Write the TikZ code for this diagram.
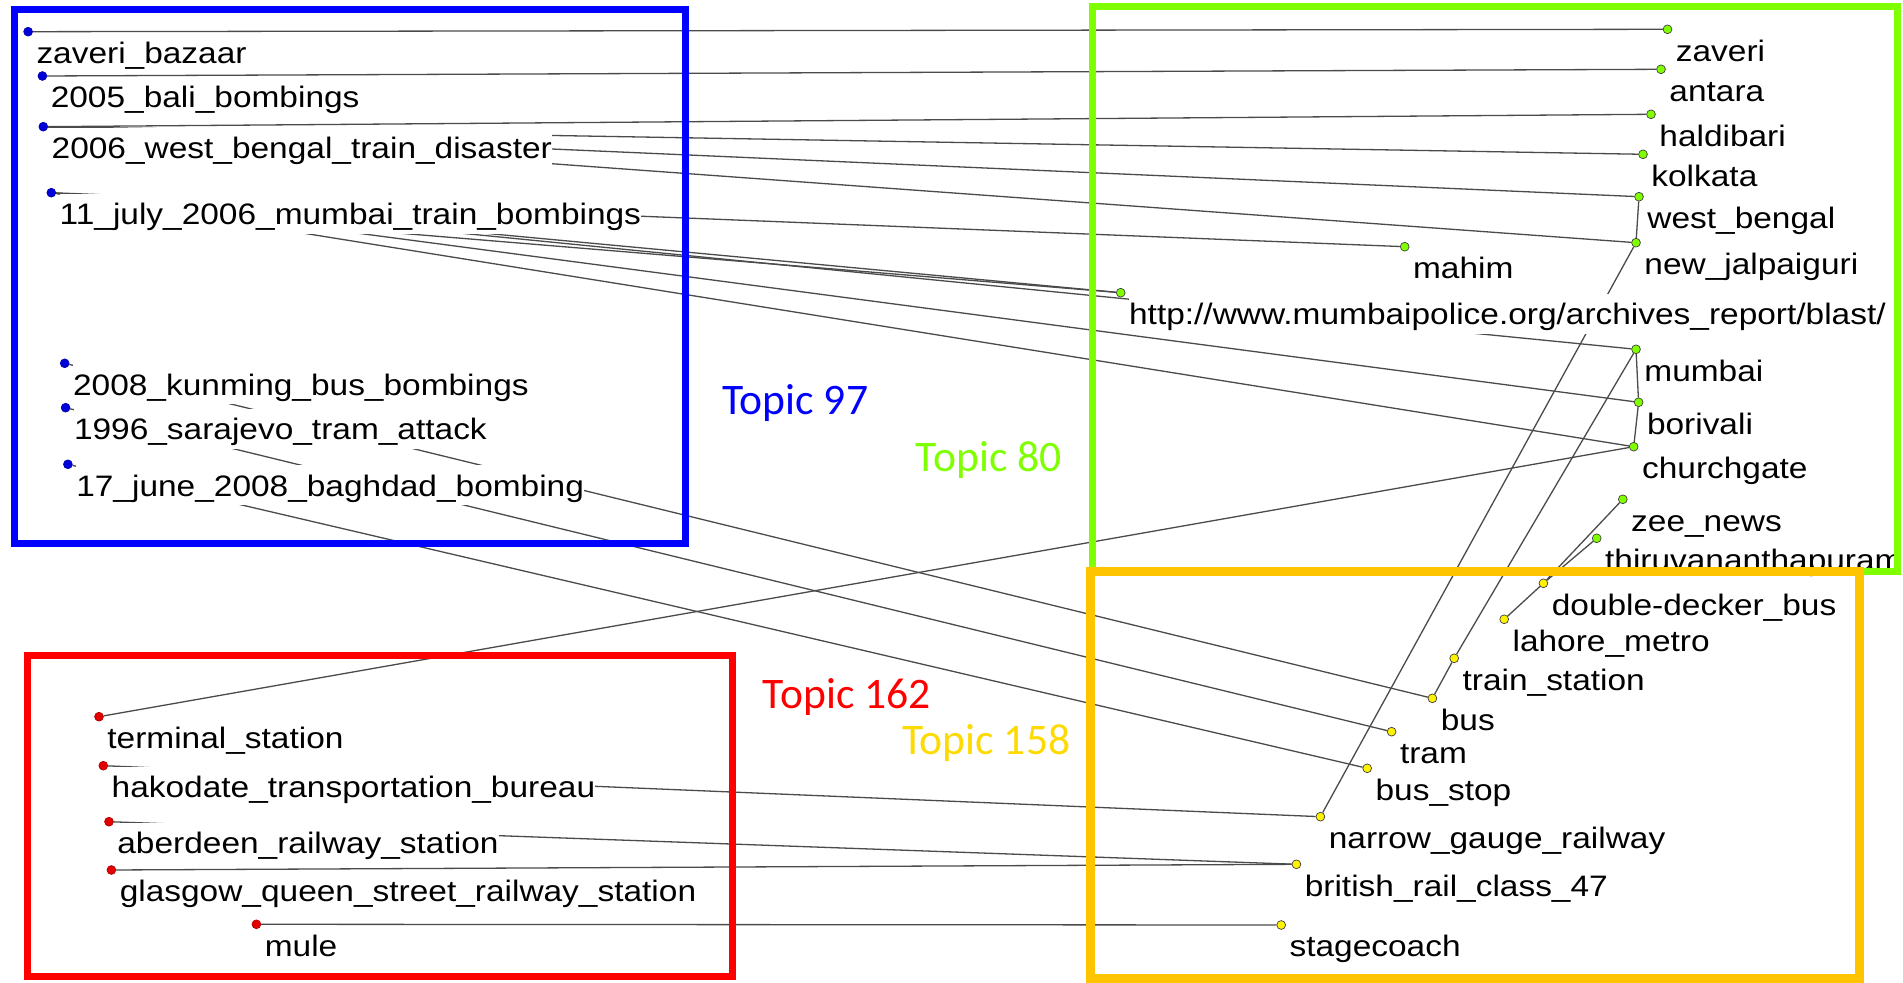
\documentclass[tikz,border=0pt]{standalone}
\usepackage{fontspec}
\newfontfamily\labfont[FakeStretch=1.13]{Liberation Sans}
\newfontfamily\topicfont{Carlito}

\pgfdeclarelayer{paper}
\pgfdeclarelayer{links}
\pgfdeclarelayer{frames}
\pgfsetlayers{paper,links,main,frames}

\definecolor{cblue}{RGB}{0,0,255}
\definecolor{cgreen}{RGB}{128,255,0}
\definecolor{corange}{RGB}{255,196,0}
\definecolor{cred}{RGB}{255,0,0}
\definecolor{tyellow}{RGB}{255,218,0}
\definecolor{linkgray}{RGB}{75,75,75}

\tikzset{
  dotbase/.style={circle, inner sep=0pt, minimum size=4.4pt, line width=0.35pt},
  bluedot/.style={dotbase, fill=cblue!85!black, draw=cblue!70!black},
  greendot/.style={dotbase, fill=cgreen, draw=black!75},
  yellowdot/.style={dotbase, fill=yellow, draw=black!75},
  reddot/.style={dotbase, fill=cred!90!black, draw=cred!70!black},
  lab/.style={font=\labfont\fontsize{14.8pt}{16pt}\selectfont, fill=white,
    inner sep=0pt, text height=15.4pt, text depth=4.5pt, anchor=base west},
  link/.style={draw=linkgray, line width=0.65pt},
  frame/.style={line width=3.5pt},
  topic/.style={font=\topicfont\fontsize{21.8pt}{24pt}\selectfont,
    anchor=base west, inner sep=0pt},
}

% a term: its dot, and its label below right of the dot
\newcommand\termnode[5]{%
  \node[#2] (#1) at (#3,#4) {};
  \node[lab] (#1-lab) at ([xshift=4pt,yshift=-16pt]#1.center) {#5};
}

\begin{document}
\begin{tikzpicture}[x=0.5pt,y=-0.5pt]
\useasboundingbox (0,0) rectangle (1903,983);
\begin{pgfonlayer}{paper}
\fill[white] (0,0) rectangle (1903,983);
\end{pgfonlayer}

% Topic 97
\termnode{zb}{bluedot}{28.1}{31.7}{zaveri\_bazaar}
\termnode{bali}{bluedot}{42.4}{76}{2005\_bali\_bombings}
\termnode{wb}{bluedot}{43.3}{126.7}{2006\_west\_bengal\_train\_disaster}
\termnode{j11}{bluedot}{51.3}{192.7}{11\_july\_2006\_mumbai\_train\_bombings}
\termnode{kun}{bluedot}{64.7}{363.3}{2008\_kunming\_bus\_bombings}
\termnode{sar}{bluedot}{65.6}{407.7}{1996\_sarajevo\_tram\_attack}
\termnode{bag}{bluedot}{67.9}{464.3}{17\_june\_2008\_baghdad\_bombing}

% Topic 80
\termnode{zav}{greendot}{1667.5}{29.3}{zaveri}
\termnode{ant}{greendot}{1661}{69.3}{antara}
\termnode{hal}{greendot}{1651}{114.3}{haldibari}
\termnode{kol}{greendot}{1643}{154.3}{kolkata}
\termnode{wbg}{greendot}{1639}{196.7}{west\_bengal}
\termnode{nj}{greendot}{1636}{242.7}{new\_jalpaiguri}
\termnode{mah}{greendot}{1404.7}{246.7}{mahim}
\termnode{mpol}{greendot}{1120.7}{292.7}{http://www.mumbaipolice.org/archives\_report/blast/}
\termnode{mum}{greendot}{1636}{349.3}{mumbai}
\termnode{bor}{greendot}{1638.6}{402.3}{borivali}
\termnode{chu}{greendot}{1633.7}{446.7}{churchgate}
\termnode{zee}{greendot}{1622.8}{499.3}{zee\_news}
\termnode{thi}{greendot}{1596.7}{538.3}{thiruvananthapuram}

% Topic 158
\termnode{ddb}{yellowdot}{1543.4}{583.3}{double-decker\_bus}
\termnode{lah}{yellowdot}{1504.2}{619.3}{lahore\_metro}
\termnode{ts}{yellowdot}{1454.2}{658.3}{train\_station}
\termnode{bus}{yellowdot}{1432.4}{698.3}{bus}
\termnode{tram}{yellowdot}{1391.6}{731.7}{tram}
\termnode{bst}{yellowdot}{1367.2}{768.3}{bus\_stop}
\termnode{ngr}{yellowdot}{1320.4}{816.7}{narrow\_gauge\_railway}
\termnode{brc}{yellowdot}{1296.4}{864.3}{british\_rail\_class\_47}
\termnode{stc}{yellowdot}{1281.2}{925}{stagecoach}

% Topic 162
\termnode{ter}{reddot}{99}{716.7}{terminal\_station}
\termnode{hak}{reddot}{103.3}{765.7}{hakodate\_transportation\_bureau}
\termnode{abe}{reddot}{109}{821.7}{aberdeen\_railway\_station}
\termnode{gla}{reddot}{111.4}{870}{glasgow\_queen\_street\_railway\_station}
\termnode{mule}{reddot}{256.4}{924.3}{mule}

% links, behind the labels
\begin{pgfonlayer}{links}
\draw[link] (zb) -- (zav);
\draw[link] (bali) -- (ant);
\draw[link] (wb) -- (hal);
\draw[link] (wb) -- (kol);
\draw[link] (wb) -- (wbg);
\draw[link] (wb) -- (nj);
\draw[link] (j11) -- (mah);
\draw[link] (j11) -- (mpol);
\draw[link] ([xshift=50pt,yshift=-10pt]j11.center) -- (mpol);
\draw[link] (j11) -- (mum);
\draw[link] (j11) -- (bor);
\draw[link] (j11) -- (chu);
\draw[link] (kun) -- (bus);
\draw[link] (sar) -- (tram);
\draw[link] (bag) -- (bst);
\draw[link] (ter) -- (chu);
\draw[link] (hak) -- (ngr);
\draw[link] (abe) -- (brc);
\draw[link] (gla) -- (brc);
\draw[link] (mule) -- (stc);
\draw[link] (wbg) -- (nj);
\draw[link] (mum) -- (bor);
\draw[link] (bor) -- (chu);
\draw[link] (nj) -- (ngr);
\draw[link] (mum) -- (ts);
\draw[link] (zee) -- (ddb);
\draw[link] (thi) -- (ddb);
\draw[link] (ddb) -- (lah);
\draw[link] (ts) -- (bus);
\end{pgfonlayer}

% topic frames and their names
\begin{pgfonlayer}{frames}
\draw[frame, draw=cred] (27,655.5) rectangle (732.5,977);
\draw[frame, draw=cblue] (14,9.5) rectangle (685.5,543.7);
\draw[frame, draw=cgreen] (1092.5,7) rectangle (1897,571.5);
\draw[frame, draw=corange, line width=4.5pt] (1090.5,572) rectangle (1859.5,979);
\node[topic, text=cblue] (t97) at (722,415) {Topic 97};
\node[topic, text=cgreen] (t80) at (915.5,471.7) {Topic 80};
\node[topic, text=cred] (t162) at (762.4,708.3) {Topic 162};
\node[topic, text=tyellow] (t158) at (902,755) {Topic 158};
\end{pgfonlayer}
\end{tikzpicture}
\end{document}
